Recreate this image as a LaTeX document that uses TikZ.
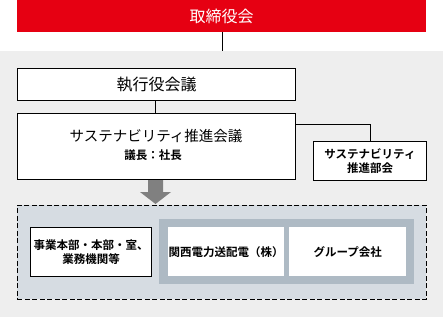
\documentclass[tikz,border=0pt]{standalone}
\usepackage{fontspec}
\setmainfont{Noto Sans CJK JP}
\newfontfamily\jpbold{Noto Sans CJK JP Bold}
\definecolor{kred}{HTML}{E60012}
\definecolor{bggray}{HTML}{EEEEEE}
\definecolor{dashfill}{HTML}{D6DCE2}
\definecolor{innerfill}{HTML}{AEBAC4}
\definecolor{arrowgray}{HTML}{808080}
\begin{document}
\begin{tikzpicture}[x=1pt,y=-1pt,
  box/.style={draw=black,line width=1pt,fill=white,anchor=north west,inner sep=0pt,align=center},
  wbox/.style={fill=white,anchor=north west,inner sep=0pt,align=center},
  conn/.style={draw=black,line width=1pt},
  big/.style={font=\fontsize{16}{18}\selectfont},
  mid/.style={font=\fontsize{14.5}{17}\selectfont},
  small/.style={font=\jpbold\fontsize{11.5}{14}\selectfont}]
\useasboundingbox (0,0) rectangle (443,317);
\fill[bggray] (0,51) rectangle (443,317);
% top red
\node[fill=kred,anchor=north west,minimum width=409pt,minimum height=32pt,inner sep=0pt,text=white,big] (board) at (17,0) {取締役会};
\node[box,minimum width=278pt,minimum height=32pt,big] (exec) at (17,68) {執行役会議};
\node[box,minimum width=278pt,minimum height=66pt] (sus) at (17,113) {};
\node[mid] (sust) at (156,136) {サステナビリティ推進会議};
\node[small] (susc) at (153,155) {議長：社長};
\node[box,minimum width=113pt,minimum height=39pt,small] (sub) at (313,141) {サステナビリティ\\推進部会};
\coordinate (top) at (222,51);
\draw[conn] (board.south -| top) -- (top);
\draw[conn] (exec.south -| 155,0) -- (sus.north -| 155,0);
\draw[conn] (295,124) -| (sub.north);
% arrow
\fill[arrowgray] (148,180) -- (163,180) -- (163,192) -- (171,192) -- (155.5,204) -- (140,192) -- (148,192) -- cycle;
% dashed area
\node[draw=black,dash pattern=on 5pt off 2.5pt,line width=0.9pt,fill=dashfill,anchor=north west,minimum width=409pt,minimum height=94pt,inner sep=0pt] (area) at (17,205) {};
\node[box,minimum width=121pt,minimum height=49pt,small] (dept) at (30,227) {事業本部・本部・室、\\業務機関等};
\node[fill=innerfill,anchor=north west,minimum width=255pt,minimum height=65pt,inner sep=0pt] (grp) at (159,219) {};
\node[wbox,minimum width=116pt,minimum height=49pt,small] (kt) at (168,227) {関西電力送配電（株）};
\node[wbox,minimum width=117pt,minimum height=49pt,small] (gc) at (289,227) {グループ会社};
\end{tikzpicture}
\end{document}
